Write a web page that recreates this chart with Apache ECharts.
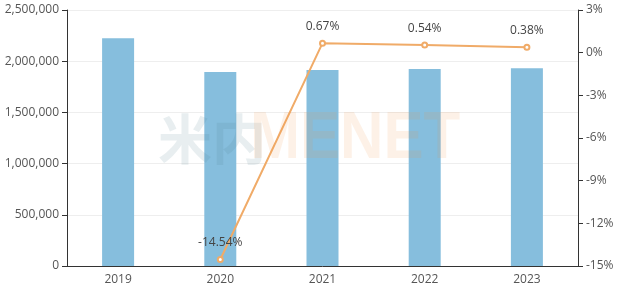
<!DOCTYPE html>
<html>
<head>
<meta charset="utf-8">
<script src="https://cdn.jsdelivr.net/npm/echarts@6/dist/echarts.min.js"></script>
<style>
  html, body { margin: 0; padding: 0; background: #fff; }
  #main { width: 620px; height: 289px; }
</style>
</head>
<body>
<div id="main"></div>
<script>
// 年份
var years = ['2019', '2020', '2021', '2022', '2023'];
// 数量
var amounts = [2225000, 1895000, 1914000, 1923000, 1930000];
// 增长率 (%)
var growth = [null, -14.54, 0.67, 0.54, 0.38];

var chart = echarts.init(document.getElementById('main'));

var option = {
  animation: false,
  textStyle: { fontFamily: '"Open Sans", "Noto Sans", sans-serif' },
  grid: { left: 67, right: 42, top: 10, bottom: 23 },
  graphic: [
    {
      type: 'text', x: 158, y: 139, z: 100,
      style: {
        text: '米内', font: 'bold 54px "Noto Sans CJK SC"',
        fill: 'rgba(80,120,140,0.13)', verticalAlign: 'middle'
      }
    },
    {
      type: 'text', x: 250, y: 140, z: 100, scaleX: 0.91,
      style: {
        text: 'MENET', font: 'bold 66px "Liberation Sans"',
        fill: 'rgba(240,150,70,0.13)', verticalAlign: 'middle'
      }
    }
  ],
  xAxis: {
    type: 'category',
    data: years,
    axisLine: { lineStyle: { color: '#333' } },
    axisTick: { lineStyle: { color: '#333' } },
    axisLabel: { color: '#555', fontSize: 12, margin: 8 }
  },
  yAxis: [
    {
      type: 'value', min: 0, max: 2500000, interval: 500000,
      axisLine: { show: true, lineStyle: { color: '#333' } },
      axisTick: { show: true, lineStyle: { color: '#333' } },
      axisLabel: {
        color: '#555', fontSize: 12,
        formatter: function (v) { return v.toLocaleString('en-US'); }
      },
      splitLine: { lineStyle: { color: '#eee' } }
    },
    {
      type: 'value', min: -15, max: 3, interval: 3,
      axisLine: { show: true, lineStyle: { color: '#333' } },
      axisTick: { show: true, lineStyle: { color: '#333' } },
      axisLabel: { color: '#555', fontSize: 12, formatter: '{value}%' },
      splitLine: { show: false }
    }
  ],
  series: [
    {
      type: 'bar',
      data: amounts,
      barWidth: 32,
      itemStyle: { color: '#86bedd' }
    },
    {
      type: 'line',
      yAxisIndex: 1,
      data: growth,
      symbol: 'emptyCircle',
      symbolSize: 5,
      lineStyle: { color: '#f0ab68', width: 2 },
      itemStyle: { color: '#f0ab68' },
      label: {
        show: true, position: 'top', distance: 7,
        color: '#444', fontSize: 12,
        formatter: function (p) { return p.value.toFixed(2) + '%'; }
      }
    }
  ]
};

chart.setOption(option);
</script>
</body>
</html>
